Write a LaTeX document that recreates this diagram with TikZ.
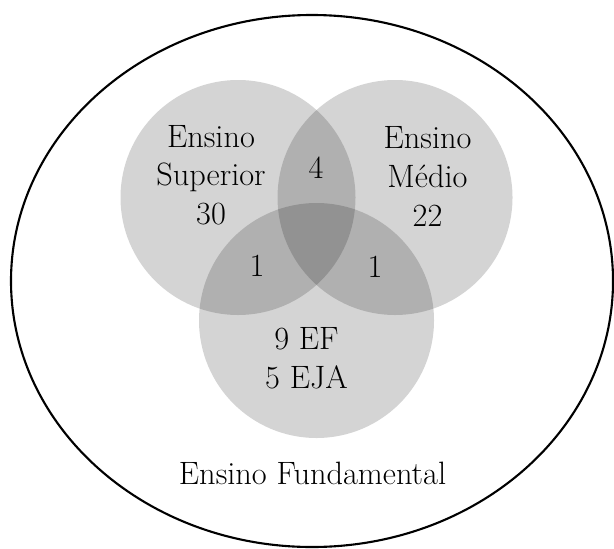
\documentclass[tikz,border=0pt]{standalone}
\usepackage{tikz}

\begin{document}
\begin{tikzpicture}[setfill/.style={fill=black, fill opacity=0.17},
  txt/.style={font=\fontsize{18.4}{22}\selectfont, align=center, inner sep=0pt}]
%%Box
\useasboundingbox (0,0) rectangle (12.28,10.96);
%%Universe
\draw[line width=1.2pt] (6.24,5.34) ellipse (6.02 and 5.32);
%%Sets
\fill[setfill] (4.76,7.01) circle (2.35);
\fill[setfill] (7.90,7.01) circle (2.35);
\fill[setfill] (6.33,4.55) circle (2.35);

%%Label
\node[txt] (sup) at (4.22,7.46) {Ensino\\Superior\\30};
\node[txt] (med) at (8.55,7.43) {Ensino\\Médio\\22};
\node[txt] (supmed) at (6.32,7.60) {4};
\node[txt] (supfun) at (5.14,5.64) {1};
\node[txt] (medfun) at (7.50,5.62) {1};
\node[txt] (fun) at (6.13,3.80) {9 EF\\5 EJA};
\node[txt] (univ) at (6.25,1.49) {Ensino Fundamental};

\end{tikzpicture}
\end{document}
